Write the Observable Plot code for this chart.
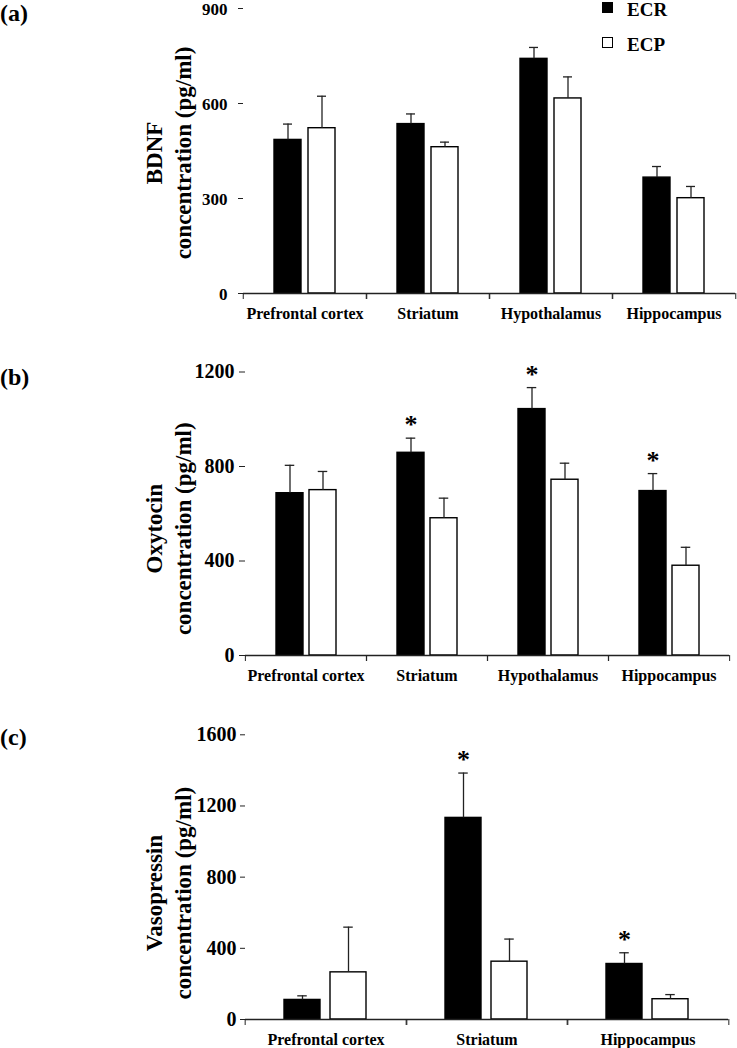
<!DOCTYPE html>
<html><head><meta charset="utf-8">
<script src="https://cdn.jsdelivr.net/npm/d3@7"></script>
<script src="https://cdn.jsdelivr.net/npm/@observablehq/plot@0.6"></script>
<style>
html,body{margin:0;padding:0;background:#fff;}
#wrap{position:relative;width:737px;height:1048px;overflow:hidden;font-family:"Liberation Serif",serif;background:#fff;}
.pl{position:absolute;left:0;}
.lab{position:absolute;left:0;font-weight:bold;font-size:24px;line-height:1;color:#000;}
.leg{position:absolute;left:602px;font-weight:bold;font-size:19px;line-height:1;color:#000;}
.sw{position:absolute;box-sizing:border-box;}
</style></head><body><div id="wrap"></div>
<script>
// ---------- data ----------
const groups = ["ECR", "ECP"];

const regionsBDNF = ["Prefrontal cortex", "Striatum", "Hypothalamus", "Hippocampus"];
const bdnfECR = [485, 535, 741, 366];
const bdnfECRsem = [50, 32, 36, 35];
const bdnfECP = [522, 462, 616, 301];
const bdnfECPsem = [101, 16, 68, 37];
const bdnfSig = [];
const bdnfTicks = [0, 300, 600, 900];

const regionsOXT = ["Prefrontal cortex", "Striatum", "Hypothalamus", "Hippocampus"];
const oxtECR = [687, 858, 1043, 696];
const oxtECRsem = [118, 62, 91, 74];
const oxtECP = [700, 581, 744, 380];
const oxtECPsem = [79, 85, 70, 78];
const oxtSig = ["Striatum", "Hypothalamus", "Hippocampus"];
const oxtTicks = [0, 400, 800, 1200];

const regionsAVP = ["Prefrontal cortex", "Striatum", "Hippocampus"];
const avpECR = [110, 1133, 312];
const avpECRsem = [23, 252, 63];
const avpECP = [265, 325, 114];
const avpECPsem = [254, 127, 26];
const avpSig = ["Striatum", "Hippocampus"];
const avpTicks = [0, 400, 800, 1200, 1600];

const panelLabels = ["(a)", "(b)", "(c)"];
const titles = ["BDNF\nconcentration (pg/ml)", "Oxytocin\nconcentration (pg/ml)", "Vasopressin\nconcentration (pg/ml)"];

// ---------- drawing ----------
const W = 737;
const FONT = "'Liberation Serif', 'Times New Roman', serif";
const wrap = document.getElementById("wrap");

function panel(cfg) {
  const {regions, ecr, ecrSem, ecp, ecpSem, sig, ticks, title, top, height, mt, mb, ml, mr,
         barW, gap, tickSize, tickPadding, tickFont, tickDy, titleDy} = cfg;
  const rows = [];
  regions.forEach((r, i) => {
    rows.push({region: r, group: "ECR", value: ecr[i], hi: ecr[i] + ecrSem[i], sig: sig.includes(r)});
    rows.push({region: r, group: "ECP", value: ecp[i], hi: ecp[i] + ecpSem[i], sig: false});
  });
  const facetW = (W - ml - mr) / regions.length;
  const step = barW + gap;
  const pi = gap / step;
  const po = (facetW / step - 2 + pi) / 2;
  const cap = (barW - 10) / 2;
  const ink = "#222";
  const plot = Plot.plot({
    width: W, height,
    marginTop: mt, marginBottom: mb, marginLeft: ml, marginRight: mr,
    style: {fontFamily: FONT, fontWeight: "bold", color: "black", background: "white", overflow: "visible"},
    fx: {domain: regions, padding: 0, label: null},
    x: {domain: groups, paddingInner: pi, paddingOuter: po, axis: null},
    y: {domain: [0, ticks[ticks.length - 1]], label: null},
    color: {domain: groups, range: ["black", "white"]},
    marks: [
      Plot.barY(rows, {fx: "region", x: "group", y: "value", fill: "group", stroke: "black", strokeWidth: 1.4}),
      Plot.ruleX(rows, {fx: "region", x: "group", y1: "value", y2: "hi", stroke: ink, strokeWidth: 1.3}),
      Plot.tickY(rows, {fx: "region", x: "group", y: "hi", stroke: ink, strokeWidth: 1.3, insetLeft: cap, insetRight: cap}),
      Plot.text(rows.filter(d => d.sig), {fx: "region", x: "group", y: "hi", text: () => "*", fontSize: 26, lineAnchor: "middle", dy: -13}),
      Plot.ruleY([0], {stroke: ink, strokeWidth: 1.3}),
      Plot.axisY({ticks, tickSize, tickPadding, fontSize: tickFont, line: true, label: null, tickFormat: d => String(d), stroke: ink, textStroke: null}),
      Plot.text(ticks, {fx: () => regions[0], y: d => d, frameAnchor: "left", dx: -(tickSize + tickPadding), dy: tickDy,
        textAnchor: "end", fontSize: tickFont, text: d => String(d), lineAnchor: "middle"}),
      Plot.axisFx({anchor: "bottom", tickSize: 0, tickPadding: 14, fontSize: 16, label: null}),
      Plot.axisFx({anchor: "bottom", tickSize: 6, tickFormat: () => "", dx: facetW / 2, label: null, stroke: ink}),
      Plot.axisFx({anchor: "bottom", tickSize: 6, tickFormat: () => "", dx: -facetW / 2, label: null, stroke: ink}),
      Plot.text([title], {fx: () => regions[0], frameAnchor: "left", rotate: -90, dx: 140 - ml, dy: titleDy,
        fontSize: 23, lineAnchor: "top", textAnchor: "middle", lineHeight: 1.26, text: d => d})
    ]
  });
  // the axis mark draws ticks and line; tick labels come from the text mark above
  plot.querySelectorAll("g[aria-label='y-axis tick label']").forEach(g => g.remove());
  const div = document.createElement("div");
  div.className = "pl";
  div.style.top = top + "px";
  div.appendChild(plot);
  wrap.appendChild(div);
}

panel({regions: regionsBDNF, ecr: bdnfECR, ecrSem: bdnfECRsem, ecp: bdnfECP, ecpSem: bdnfECPsem, sig: bdnfSig,
  ticks: bdnfTicks, title: titles[0], top: 0, height: 326, mt: 8, mb: 33, ml: 242, mr: 1,
  barW: 28, gap: 7, tickSize: 5, tickPadding: 11, tickFont: 17, tickDy: 1, titleDy: 2});
panel({regions: regionsOXT, ecr: oxtECR, ecrSem: oxtECRsem, ecp: oxtECP, ecpSem: oxtECPsem, sig: oxtSig,
  ticks: oxtTicks, title: titles[1], top: 330, height: 360, mt: 41.5, mb: 35, ml: 244, mr: 8,
  barW: 27.5, gap: 6.5, tickSize: 6, tickPadding: 5, tickFont: 20, tickDy: 0, titleDy: 15});
panel({regions: regionsAVP, ecr: avpECR, ecrSem: avpECRsem, ecp: avpECP, ecpSem: avpECPsem, sig: avpSig,
  ticks: avpTicks, title: titles[2], top: 690, height: 358, mt: 44.3, mb: 29, ml: 244, mr: 8,
  barW: 36.5, gap: 10, tickSize: 5, tickPadding: 4, tickFont: 20, tickDy: 0, titleDy: 16});

// panel labels
[[0, 1], [1, 365], [2, 725]].forEach(([i, y]) => {
  const d = document.createElement("div");
  d.className = "lab"; d.style.top = y + "px"; d.textContent = panelLabels[i];
  wrap.appendChild(d);
});

// legend
groups.forEach((g, i) => {
  const sw = document.createElement("div");
  sw.className = "sw";
  sw.style.left = "602px"; sw.style.top = (2 + i * 35) + "px";
  sw.style.width = "11px"; sw.style.height = "11px";
  sw.style.background = i === 0 ? "#000" : "#fff";
  sw.style.border = "1.3px solid #000";
  wrap.appendChild(sw);
  const t = document.createElement("div");
  t.className = "leg";
  t.style.left = "627px"; t.style.top = (0 + i * 35) + "px";
  t.textContent = g;
  wrap.appendChild(t);
});
</script></body></html>
